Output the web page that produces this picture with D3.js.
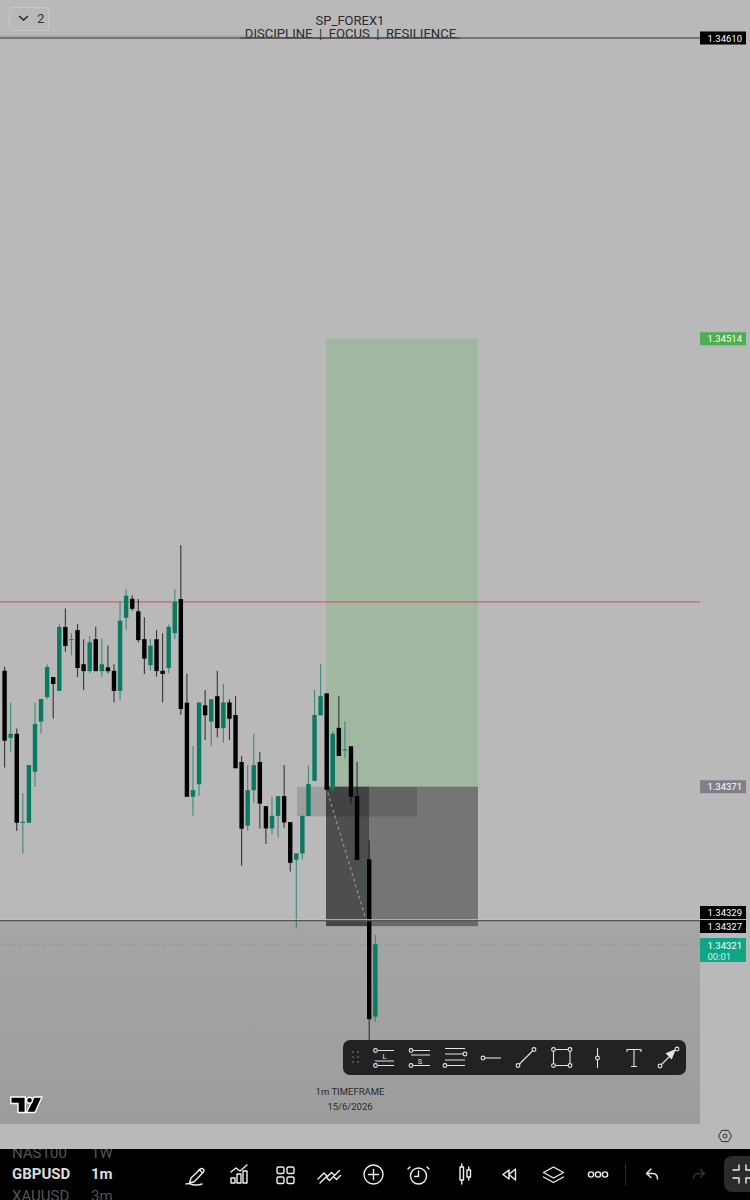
<!DOCTYPE html>
<html>
<head>
<meta charset="utf-8">
<style>html,body{margin:0;padding:0;background:#b9b9b9}svg{display:block}text{font-family:Roboto,sans-serif}</style>
<script src="https://cdnjs.cloudflare.com/ajax/libs/d3/7.8.5/d3.min.js"></script>
</head>
<body>
<script>
// OHLC per one-minute candle (open, high, low, close)
const opens=[1.344080,1.343866,1.343879,1.343595,1.343595,1.343758,1.343918,1.343996,1.344060,1.344016,1.344220,1.344179,1.344210,1.344101,1.344079,1.344181,1.344079,1.344091,1.344080,1.344016,1.344249,1.344310,1.344270,1.344181,1.344098,1.344181,1.344080,1.344089,1.344200,1.344309,1.343978,1.343678,1.343718,1.343970,1.343918,1.343999,1.343897,1.343979,1.343939,1.343789,1.343586,1.343699,1.343789,1.343648,1.343577,1.343617,1.343680,1.343597,1.343477,1.343497,1.343617,1.343729,1.343938,1.344008,1.343700,1.343898,1.343828,1.343839,1.343680,1.343478,1.343478,1.342976];
const highs=[1.344093,1.343978,1.343896,1.343689,1.343779,1.343978,1.343990,1.344101,1.344060,1.344228,1.344279,1.344200,1.344229,1.344181,1.344191,1.344221,1.344182,1.344161,1.344101,1.344300,1.344340,1.344321,1.344309,1.344251,1.344181,1.344210,1.344200,1.344228,1.344340,1.344482,1.344071,1.343840,1.343979,1.344019,1.343989,1.344080,1.344039,1.343989,1.343999,1.343808,1.343779,1.343879,1.343820,1.343648,1.343678,1.343680,1.343779,1.343597,1.343497,1.343617,1.343779,1.344019,1.344102,1.344008,1.343887,1.344000,1.343918,1.343839,1.343790,1.343483,1.343538,1.343237];
const lows=[1.343771,1.343822,1.343569,1.343497,1.343595,1.343710,1.343880,1.343990,1.343928,1.344016,1.344141,1.344130,1.344060,1.344019,1.344072,1.344079,1.344061,1.344072,1.343979,1.343987,1.344212,1.344272,1.344171,1.344070,1.344080,1.344061,1.343979,1.344072,1.344181,1.343939,1.343678,1.343617,1.343680,1.343859,1.343840,1.343868,1.343850,1.343859,1.343769,1.343458,1.343570,1.343659,1.343577,1.343527,1.343558,1.343548,1.343579,1.343439,1.343258,1.343478,1.343617,1.343729,1.343938,1.343700,1.343691,1.343808,1.343801,1.343657,1.343476,1.343339,1.342901,1.342960];
const closes=[1.343857,1.343879,1.343595,1.343598,1.343779,1.343910,1.343990,1.344092,1.344038,1.344220,1.344159,1.344181,1.344089,1.344079,1.344171,1.344079,1.344101,1.344079,1.344016,1.344240,1.344320,1.344278,1.344178,1.344119,1.344160,1.344079,1.344070,1.344220,1.344300,1.343958,1.343678,1.343699,1.343979,1.343938,1.343989,1.343897,1.343979,1.343927,1.343769,1.343576,1.343699,1.343779,1.343656,1.343577,1.343617,1.343680,1.343596,1.343467,1.343497,1.343617,1.343719,1.343939,1.343999,1.343700,1.343879,1.343808,1.343829,1.343678,1.343476,1.343480,1.342968,1.343207];

// Price levels and their axis labels
const axisLevels=[1.34610,1.34514,1.34371,1.34329,1.34327];
const axisLabels=["1.34610","1.34514","1.34371","1.34329","1.34327"];
const axisColors=["#000","#4caf50","#7f7f8c","#000","#000"];
const lastPrice=1.343205, lastLabel="1.34321", countdown="00:01";
const redLevel=1.34430, topLevel=1.34610, blackLevel=1.343283;
// Position tool levels
const rewardTop=1.34514, entry=1.34371, riskBottom=1.343265, zoneBottom=1.343615;

const W=750,H=1200,CHART_R=700;
const y=d3.scaleLinear().domain([1.34610,1.34329]).range([38,918.3]);
const x=d3.scaleLinear().domain([0,61]).range([4.6,375.3]);
const svg=d3.select("body").append("svg").attr("width",W).attr("height",H);
const rect=(g,a,b,c,d,f,o)=>g.append("rect").attr("x",a).attr("y",b).attr("width",c-a).attr("height",d-b).attr("fill",f).attr("fill-opacity",o==null?1:o);
const hl=(v,a,b,c,w,o)=>svg.append("line").attr("x1",a).attr("x2",b).attr("y1",y(v)).attr("y2",y(v)).attr("stroke",c).attr("stroke-width",w).attr("stroke-opacity",o==null?1:o);

const defs=svg.append("defs");
const gr=defs.append("linearGradient").attr("id","low").attr("x1",0).attr("x2",0).attr("y1",0).attr("y2",1);
gr.append("stop").attr("offset",0).attr("stop-color","#a6a6a6");
gr.append("stop").attr("offset",1).attr("stop-color","#9c9c9c");

rect(svg,0,0,W,H,"#b9b9b9");
rect(svg,0,y(blackLevel),CHART_R,1124,"url(#low)");

// Position tool
rect(svg,326,y(rewardTop),478,y(entry),"#97b697",0.72);
rect(svg,326,y(entry),478,y(riskBottom),"#000",0.37);
rect(svg,297,y(entry),417,y(zoneBottom),"#000",0.14);
rect(svg,326,y(entry),369,y(riskBottom),"#000",0.33);
svg.append("line").attr("x1",326).attr("y1",y(entry)).attr("x2",368).attr("y2",y(riskBottom))
  .attr("stroke","#b5b5b5").attr("stroke-width",1.2).attr("stroke-dasharray","3 3").attr("stroke-opacity",.7);

// Levels
hl(redLevel,0,CHART_R,"#dc4a4a",1);
svg.append("line").attr("x1",0).attr("x2",245).attr("y1",36).attr("y2",36).attr("stroke","#9c9c9c").attr("stroke-width",1);
hl(lastPrice,0,CHART_R,"#3f9c88",1,.7).attr("stroke-dasharray","1 2");

// Candles
const up="#0b7862",down="#000";
const idx=d3.range(opens.length);
svg.append("g").selectAll("line").data(idx).join("line")
  .attr("x1",x).attr("x2",x).attr("y1",i=>y(highs[i])).attr("y2",i=>y(lows[i]))
  .attr("stroke",i=>closes[i]>=opens[i]?up:down).attr("stroke-width",1.1).attr("stroke-opacity",.72);
svg.append("g").selectAll("rect").data(idx).join("rect")
  .attr("x",i=>x(i)-2.2).attr("width",4.4)
  .attr("y",i=>y(Math.max(opens[i],closes[i])))
  .attr("height",i=>Math.max(1,Math.abs(y(opens[i])-y(closes[i]))))
  .attr("fill",i=>closes[i]>=opens[i]?up:down);

hl(blackLevel,0,CHART_R,"#555",1.4);
svg.append("line").attr("x1",0).attr("x2",CHART_R).attr("y1",y(blackLevel)-1).attr("y2",y(blackLevel)-1).attr("stroke","#d0d0d0").attr("stroke-width",.7);
hl(topLevel,0,CHART_R,"#333",1);

// Title
const txt=(s,a,b,size,col,anchor,weight)=>svg.append("text").attr("x",a).attr("y",b).attr("font-size",size).attr("fill",col).attr("text-anchor",anchor||"start").attr("font-weight",weight||400).attr("xml:space","preserve").style("white-space","pre").text(s);
txt("SP_FOREX1",350,25,13,"#2b2b2b","middle");
txt("DISCIPLINE  |  FOCUS  |  RESILIENCE",350.5,38,13.1,"#2b2b2b","middle");
hl(topLevel,240,460,"#444",1);
svg.append("rect").attr("x",9.5).attr("y",7.5).attr("width",39).attr("height",23).attr("rx",3).attr("fill","#b9b9b9").attr("stroke","#c9c9c9");
svg.append("path").attr("d","M19 16l4.5 4 4.5-4").attr("fill","none").attr("stroke","#222").attr("stroke-width",1.5);
txt("2",37,23,13,"#333");

// Axis labels
axisLevels.forEach((v,i)=>{
  const yy=i==3?912.5:i==4?926.5:y(v);
  rect(svg,700,yy-6.5,746,yy+6.5,axisColors[i]);
  txt(axisLabels[i],707.5,yy+3.5,9.5,"#fff");
});
svg.append("rect").attr("x",700).attr("y",938).attr("width",46).attr("height",24).attr("rx",1).attr("fill","#0fa688");
txt(lastLabel,707.5,949,9.5,"#fff");
txt(countdown,707.5,960,9.5,"#c9efe6");

// Footer text and logo
txt("1m TIMEFRAME",350,1095,9.5,"#2b2b2b","middle");
txt("15/6/2026",350,1110,9.5,"#2b2b2b","middle");
const logo=svg.append("g").attr("transform","translate(10,1096)").attr("fill","#000").attr("stroke","#fff").attr("stroke-width",1.4).attr("stroke-linejoin","round");
logo.append("path").attr("d","M.8 1h14.500v15.500H8V7.500H.8z");
logo.append("path").attr("d","M24 1h8l-7 15.500h-8.500z");
logo.append("circle").attr("cx",19.5).attr("cy",4.2).attr("r",3);

// Settings hexagon
svg.append("path").attr("d","M718.5 1136l3.2-5.6h6.6l3.2 5.6-3.2 5.6h-6.6z").attr("fill","none").attr("stroke","#333").attr("stroke-width",1);
svg.append("circle").attr("cx",725).attr("cy",1136).attr("r",2).attr("fill","none").attr("stroke","#333");

// Drawing toolbar
svg.append("rect").attr("x",343).attr("y",1040).attr("width",343).attr("height",35).attr("rx",7).attr("fill","#222");
const tb=svg.append("g").attr("fill","none").attr("stroke","#e4e4e4").attr("stroke-width",1.1);
[[353,1052],[358,1052],[353,1057],[358,1057],[353,1062],[358,1062]].forEach(p=>svg.append("circle").attr("cx",p[0]).attr("cy",p[1]).attr("r",.9).attr("fill","#666"));
const circ=(a,b)=>tb.append("circle").attr("cx",a).attr("cy",b).attr("r",1.9);
const seg=(d)=>tb.append("path").attr("d",d);
circ(375.5,1050.5);circ(375.5,1065.5);seg("M378 1050.5h16M375 1061h19M378 1065.5h16");
txt("L",384.5,1059,7.5,"#e4e4e4","middle");
circ(411,1050.5);circ(411,1065.5);seg("M413 1050.5h17M411 1055h19M413 1065.5h17");
txt("S",420,1063.5,7.5,"#e4e4e4","middle");
circ(465,1054);circ(445,1065.5);seg("M445 1048.5h20M445 1054h18M445 1060h20M447 1065.5h18");
circ(483,1058);seg("M485 1058h16");
circ(518,1065.5);circ(534,1049.5);seg("M519.5 1064l13-13");
circ(553.5,1049.5);circ(570,1049.5);circ(553.5,1065.5);circ(570,1065.5);seg("M556 1049.5h12M556 1065.5h12M553.5 1052v11M570 1052v11");
circ(597.5,1058);seg("M597.5 1048v8M597.5 1060v8");
seg("M627 1052v-2.5h14v2.5M634 1049.5v17M631 1066.5h6");
circ(660,1066);circ(677,1049);seg("M661.5 1064.5l11-11");
tb.append("path").attr("d","M675 1050l-8.5 3.5 5 5z").attr("fill","#e4e4e4");

// Bottom bar
rect(svg,0,1149,W,H,"#000");
svg.append("rect").attr("x",724).attr("y",1156).attr("width",36).attr("height",36).attr("rx",8).attr("fill","#2b2b2b");
const cp=defs.append("clipPath").attr("id","bar");cp.append("rect").attr("x",0).attr("y",1149).attr("width",W).attr("height",51);
const sym=svg.append("g").attr("clip-path","url(#bar)");
[["NAS100","1W",1158,"#555",400],["GBPUSD","1m",1179,"#ddd",700],["XAUUSD","3m",1201,"#555",400]].forEach(r=>{
  sym.append("text").attr("x",12).attr("y",r[2]).attr("font-size",15).attr("font-weight",r[4]).attr("fill",r[3]).text(r[0]);
  sym.append("text").attr("x",91).attr("y",r[2]).attr("font-size",15).attr("font-weight",r[4]).attr("fill",r[3]).text(r[1]);
});
const ic=svg.append("g").attr("fill","none").attr("stroke","#eee").attr("stroke-width",1.4).attr("stroke-linejoin","round").attr("stroke-linecap","round");
const p=(d)=>ic.append("path").attr("d",d);
// pencil
p("M191 1178l-1.5 5 5-1.5 9-9.5c1-1 .5-2.5-.5-3s-2-.8-3 .2zM199 1169.5l3.500 3.200M186 1184c2-1 4 0 6 .5s6 1 10-.5");
// chart
p("M231 1183v-5h4v5zM237 1183v-9h4v9zM243 1183v-12h4v12zM231 1172l5-4 4 3 7-6");
// grid
[[277,1167],[287,1167],[277,1177],[287,1177]].forEach(q=>ic.append("rect").attr("x",q[0]).attr("y",q[1]).attr("width",7).attr("height",6.500).attr("rx",1.500));
// wave
p("M318 1179l6-6 3.500 3.500 4-4 3 3 5-5M320 1183l6-6 3.500 3.500 4-4 3 3 4-4");
// plus
ic.append("circle").attr("cx",373.5).attr("cy",1174.5).attr("r",9.500);p("M373.5 1169.500v10M368.500 1174.500h10");
// alarm
ic.append("circle").attr("cx",418.5).attr("cy",1176).attr("r",8);p("M418.500 1171v5.500h-4M410 1167l-2 2M427 1167l2 2");
// candles
p("M460 1167h3.500v13h-3.500zM461.800 1164v3M461.800 1180v4M467 1170h3.500v7H467zM468.800 1167v3M468.800 1177v3");
// rewind
p("M509 1170l-6 4.500 6 4.500zM515.500 1169l-6.500 5.500 6.500 5.500z");
// layers
p("M553.500 1167l10 5.500-10 5.500-10-5.500zM543.500 1177l10 5.500 10-5.500");
// dots
[591,598,605].forEach(c=>ic.append("circle").attr("cx",c).attr("cy",1174.5).attr("r",2.600));
svg.append("line").attr("x1",625.5).attr("x2",625.5).attr("y1",1163).attr("y2",1186).attr("stroke","#2b2b2b");
// undo and redo
p("M651 1169l-4.500 4.500 4.500 4M647 1173.500h5.500c3 0 5 2 5 5.500");
svg.append("path").attr("d","M700 1169l4.500 4.500-4.500 4M704 1173.500h-5.500c-3 0-5 2-5 5.500").attr("fill","none").attr("stroke","#333").attr("stroke-width",1.4);
// expand button corners
p("M739 1165v5h-6M733 1178h6v5M746 1165v5h5M746 1183v-5h5");
</script>
</body>
</html>
